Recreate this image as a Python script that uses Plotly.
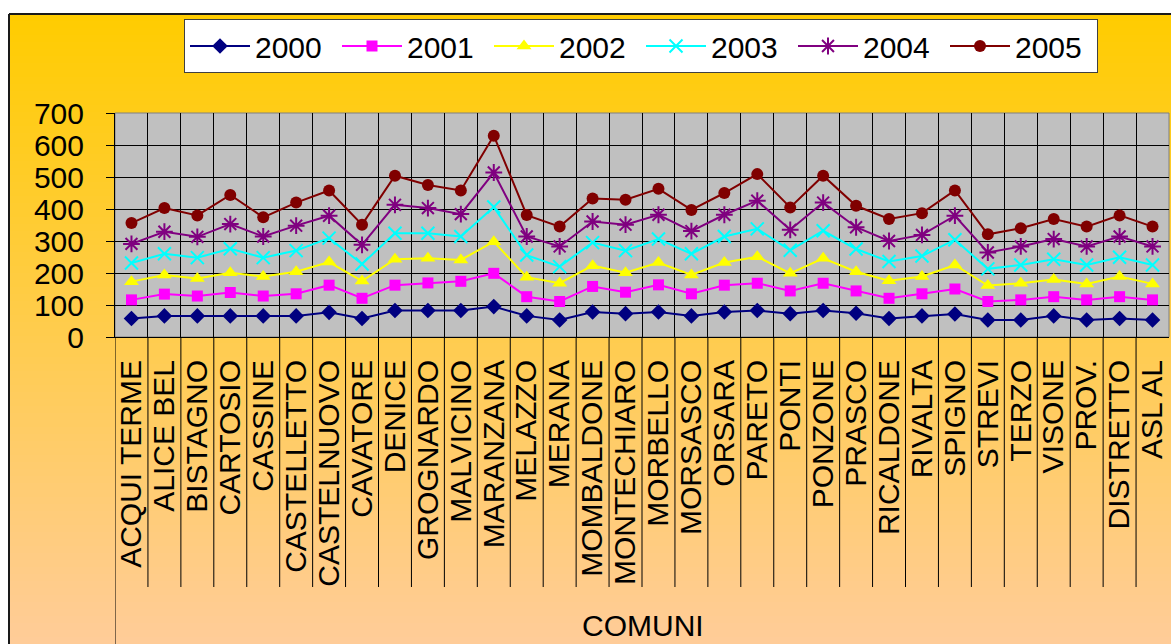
import plotly.graph_objects as go

comuni = ["ACQUI TERME", "ALICE BEL", "BISTAGNO", "CARTOSIO", "CASSINE", "CASTELLETTO",
          "CASTELNUOVO", "CAVATORE", "DENICE", "GROGNARDO", "MALVICINO", "MARANZANA",
          "MELAZZO", "MERANA", "MOMBALDONE", "MONTECHIARO", "MORBELLO", "MORSASCO",
          "ORSARA", "PARETO", "PONTI", "PONZONE", "PRASCO", "RICALDONE", "RIVALTA",
          "SPIGNO", "STREVI", "TERZO", "VISONE", "PROV.", "DISTRETTO", "ASL AL"]

y2000 = [58, 66, 66, 66, 66, 66, 77, 58, 83, 83, 83, 95, 66, 53, 78, 73, 78, 66,
         78, 83, 73, 83, 74, 58, 66, 72, 53, 53, 66, 53, 58, 53]
y2001 = [116, 134, 128, 139, 128, 135, 162, 121, 162, 169, 174, 199, 126, 111, 158, 140,
         163, 135, 162, 168, 144, 168, 144, 121, 135, 150, 111, 116, 126, 116, 126, 116]
y2002 = [173, 194, 183, 201, 189, 204, 234, 175, 243, 246, 241, 298, 187, 168, 223, 201,
         233, 194, 233, 251, 199, 246, 204, 176, 189, 225, 161, 168, 180, 166, 189, 166]
y2003 = [231, 260, 248, 276, 248, 270, 309, 228, 324, 324, 314, 406, 256, 220, 295, 270,
         306, 260, 314, 338, 271, 332, 275, 236, 253, 304, 213, 225, 243, 225, 249, 225]
y2004 = [291, 329, 313, 353, 314, 348, 379, 288, 413, 403, 384, 514, 314, 283, 361, 351,
         382, 331, 382, 426, 335, 420, 343, 300, 319, 379, 264, 283, 306, 283, 314, 283]
y2005 = [356, 403, 380, 444, 374, 420, 458, 351, 504, 475, 458, 629, 381, 345, 433, 429,
         463, 397, 450, 509, 405, 504, 410, 369, 387, 458, 321, 340, 369, 345, 380, 345]

series_names = ["2000", "2001", "2002", "2003", "2004", "2005"]
series_values = [y2000, y2001, y2002, y2003, y2004, y2005]
colors = ["#000080", "#FF00FF", "#FFFF00", "#00FFFF", "#800080", "#800000"]
symbols = ["diamond", "square", "triangle-up", "x-thin-open", "asterisk-open", "circle"]
sizes = [12, 11, 13, 13, 14, 12]
ytick_vals = [0, 100, 200, 300, 400, 500, 600, 700]

FONT = "Arial, Liberation Sans, sans-serif"
W, H = 1171, 644
L, R, T, B = 115, 1169, 113, 337  # plot area pixel edges


def px_x(px):
    return (px - L) / (R - L)


def px_y(py):
    return (B - py) / (B - T)


fig = go.Figure()
for name, vals, col, sym, sz in zip(series_names, series_values, colors, symbols, sizes):
    fig.add_trace(go.Scatter(
        x=comuni, y=vals, name=name, mode="lines+markers",
        line=dict(color=col, width=2),
        marker=dict(symbol=sym, size=sz, color=col, line=dict(color=col, width=2 if "open" in sym else 0)),
    ))

shapes = []
# gradient background (frame area)
n = 90
top, bot = 14, 644
for i in range(n):
    y0 = top + (bot - top) * i / n
    y1 = top + (bot - top) * (i + 1) / n + 0.5
    t = (i + 0.5) / n
    b = int(round(0 + 153 * t))
    shapes.append(dict(type="rect", xref="paper", yref="paper", layer="below",
                       x0=px_x(9), x1=px_x(W + 5), y0=px_y(y1), y1=px_y(y0),
                       fillcolor=f"rgb(255,204,{b})", line=dict(width=0)))
# frame lines
shapes.append(dict(type="line", xref="paper", yref="paper", layer="below",
                   x0=px_x(9), x1=px_x(W + 5), y0=px_y(14), y1=px_y(14),
                   line=dict(color="#1a1a1a", width=2)))
shapes.append(dict(type="line", xref="paper", yref="paper", layer="below",
                   x0=px_x(9), x1=px_x(9), y0=px_y(14), y1=px_y(H + 5),
                   line=dict(color="#1a1a1a", width=2)))
# gray plot area
shapes.append(dict(type="rect", xref="paper", yref="paper", layer="below",
                   x0=0, x1=1, y0=0, y1=1, fillcolor="#C0C0C0",
                   line=dict(color="#808080", width=1)))
# category separators below the axis
for i in range(len(comuni)):
    xb = i - 0.5
    yend = px_y(H + 5) if i == 0 else px_y(587)
    shapes.append(dict(type="line", xref="x", yref="paper", layer="above",
                       x0=xb, x1=xb, y0=0, y1=yend,
                       line=dict(color="#000000", width=1)))

fig.update_layout(
    width=W, height=H, autosize=False,
    margin=dict(l=L, r=W - R, t=T, b=H - B, pad=0),
    paper_bgcolor="white", plot_bgcolor="rgba(0,0,0,0)",
    font=dict(family=FONT, size=30, color="black"),
    shapes=shapes,
    showlegend=True,
    legend=dict(orientation="h", x=px_x(184), y=px_y(19), xanchor="left", yanchor="top",
                bgcolor="white", bordercolor="#404040", borderwidth=1,
                font=dict(family=FONT, size=30), itemwidth=60,
                entrywidth=77, entrywidthmode="pixels", traceorder="normal"),
    annotations=[dict(text="COMUNI", xref="paper", yref="paper", x=px_x(643), y=px_y(625),
                      xanchor="center", yanchor="middle", showarrow=False,
                      font=dict(family=FONT, size=30, color="black"))],
)
fig.update_xaxes(type="category", range=[-0.5, len(comuni) - 0.5], tickson="boundaries",
                 tickmode="array", tickvals=comuni, ticktext=comuni,
                 showgrid=True, gridcolor="black", gridwidth=1, ticks="", tickangle=-90,
                 tickfont=dict(family=FONT, size=30), showline=True, linecolor="black",
                 linewidth=1, ticklabelstandoff=10, fixedrange=True)
fig.update_yaxes(range=[0, 700], tickvals=ytick_vals, showgrid=True, gridcolor="black",
                 gridwidth=1, zeroline=False, ticks="outside", ticklen=8, tickcolor="black",
                 showline=True, linecolor="black", linewidth=1,
                 tickfont=dict(family=FONT, size=30), ticklabelstandoff=16, fixedrange=True)

fig.write_html("out.html", config={"displayModeBar": False},
               post_script="document.body.style.margin='0';document.body.style.overflow='hidden';")
